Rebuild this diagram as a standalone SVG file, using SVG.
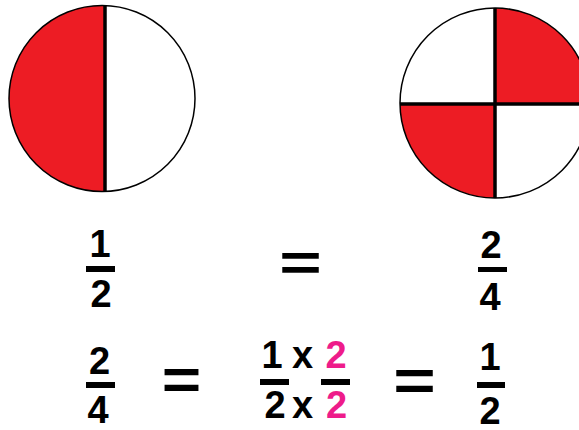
<svg xmlns="http://www.w3.org/2000/svg" width="579" height="430" viewBox="0 0 579 430">
<style>
.t{font-family:"Liberation Sans",Arial,sans-serif;font-weight:bold;font-size:38px;fill:#000;text-anchor:middle}
.p{fill:#EE1C8A}
.eq{font-family:"Liberation Sans",Arial,sans-serif;font-weight:bold;font-size:52px;fill:#000;text-anchor:middle}
.red{fill:#ED1C24}
.ring{fill:none;stroke:#000;stroke-width:1.5}
.div{stroke:#000;stroke-width:3.5}
.bar{fill:#000}
</style>
<rect width="579" height="430" fill="#fff"/>
<g id="half-circle">
<path class="red" d="M105,5.55 A93,93 0 1 0 105,191.45 Z"/>
<circle class="ring" cx="102" cy="98.5" r="93"/>
<line class="div" x1="105" y1="5" x2="105" y2="192"/>
</g>
<g id="quarter-circle">
<path class="red" d="M495,104 L495,8 A95,95 0 0 1 590,104 Z"/>
<path class="red" d="M495,104 L495,198 A95,95 0 0 1 400,104 Z"/>
<circle class="ring" cx="495" cy="103" r="95"/>
<line class="div" x1="495" y1="8" x2="495" y2="198"/>
<line class="div" x1="400" y1="104" x2="579" y2="104"/>
</g>
<g id="frac-1-2-top">
<text class="t" x="100" y="257">1</text>
<rect class="bar" x="86" y="266" width="29" height="6"/>
<text class="t" x="101" y="307">2</text>
</g>
<g id="eq-top">
<text class="eq" transform="translate(300.5,281) scale(1.4,1)" x="0" y="0">=</text>
</g>
<g id="frac-2-4-top">
<text class="t" x="491" y="258">2</text>
<rect class="bar" x="478" y="267" width="29" height="5"/>
<text class="t" x="490" y="310">4</text>
</g>
<g id="frac-2-4-bottom">
<text class="t" x="99.5" y="374">2</text>
<rect class="bar" x="86" y="382" width="29" height="6"/>
<text class="t" x="98" y="423">4</text>
</g>
<g id="eq-bottom-left">
<text class="eq" transform="translate(181.5,399) scale(1.3,1.1)" x="0" y="0">=</text>
</g>
<g id="frac-product">
<text class="t" x="272" y="368">1</text>
<text class="t" x="302.5" y="368">x</text>
<text class="t p" x="336" y="368">2</text>
<rect class="bar" x="260" y="379" width="29" height="6"/>
<rect class="bar" x="321" y="379" width="29" height="6"/>
<text class="t" x="275" y="418">2</text>
<text class="t" x="302.5" y="418">x</text>
<text class="t p" x="336.5" y="418">2</text>
</g>
<g id="eq-bottom-right">
<text class="eq" transform="translate(414.5,400) scale(1.4,1.1)" x="0" y="0">=</text>
</g>
<g id="frac-1-2-bottom">
<text class="t" x="490" y="370">1</text>
<rect class="bar" x="477" y="382" width="28" height="6"/>
<text class="t" x="490" y="424">2</text>
</g>
</svg>
